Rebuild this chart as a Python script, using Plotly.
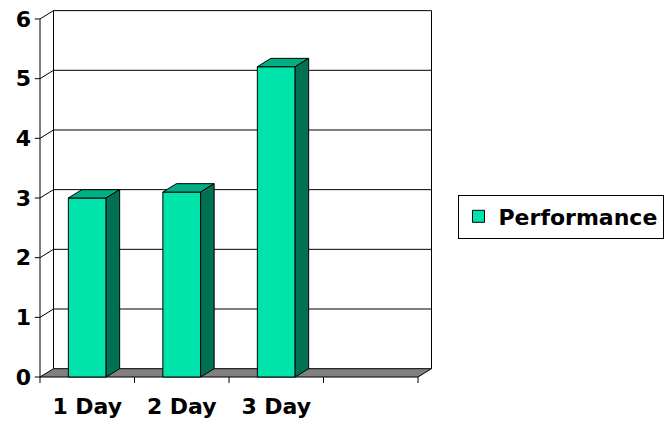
import plotly.graph_objects as go

# Data
categories = ["1 Day", "2 Day", "3 Day", ""]
performance = [3.0, 3.1, 5.2]
y_ticks = [0, 1, 2, 3, 4, 5, 6]

# Colours
FRONT = "#00E3AA"
TOP = "#00AF83"
SIDE = "#007153"
FLOOR = "#808080"
LINE = "#000000"
FONT = "DejaVu Sans"

# Pseudo-3D geometry (in axis units)
BAR_W = 0.4
DX = 0.143          # depth offset along x
DY = 0.140          # depth offset along y
X0, X1 = -0.5, len(categories) - 0.5
YMAX = max(y_ticks)
TICK = 0.1          # outside tick length below the floor

xpos = list(range(len(performance)))

fig = go.Figure()

# Front faces of the columns
fig.add_trace(go.Bar(
    x=xpos, y=performance, width=BAR_W, name="Performance",
    marker=dict(color=FRONT, line=dict(color=LINE, width=1)),
    hoverinfo="skip",
))

# Top and side faces built from the same values
top_x, top_y, side_x, side_y = [], [], [], []
for xc, v in zip(xpos, performance):
    l, r = xc - BAR_W / 2, xc + BAR_W / 2
    top_x += [l, l + DX, r + DX, r, l, None]
    top_y += [v, v + DY, v + DY, v, v, None]
    side_x += [r, r + DX, r + DX, r, r, None]
    side_y += [0, DY, v + DY, v, 0, None]

for fx, fy, col in ((top_x, top_y, TOP), (side_x, side_y, SIDE)):
    fig.add_trace(go.Scatter(
        x=fx, y=fy, mode="lines", fill="toself", fillcolor=col,
        line=dict(color=LINE, width=1), showlegend=False, hoverinfo="skip",
    ))

shapes = []
# Floor
shapes.append(dict(
    type="path", layer="below",
    path=f"M{X0},0 L{X1},0 L{X1 + DX},{DY} L{X0 + DX},{DY} Z",
    fillcolor=FLOOR, line=dict(color=LINE, width=1),
))
# Gridlines across the side wall and back wall
for t in y_ticks[1:]:
    shapes.append(dict(
        type="path", layer="below",
        path=f"M{X0},{t} L{X0 + DX},{t + DY} L{X1 + DX},{t + DY}",
        line=dict(color=LINE, width=1),
    ))
# Back wall verticals
for xv in (X0 + DX, X1 + DX):
    shapes.append(dict(type="line", layer="below", x0=xv, x1=xv, y0=DY, y1=YMAX + DY,
                       line=dict(color=LINE, width=1)))
# Value axis line and its ticks
shapes.append(dict(type="line", layer="below", x0=X0, x1=X0, y0=-TICK, y1=YMAX,
                   line=dict(color=LINE, width=1)))
for t in y_ticks:
    shapes.append(dict(type="line", layer="below", x0=X0 - 0.055, x1=X0, y0=t, y1=t,
                       line=dict(color=LINE, width=1)))
# Category boundary ticks
for i in range(1, len(categories) + 1):
    b = X0 + i
    shapes.append(dict(type="line", layer="below", x0=b, x1=b, y0=-TICK, y1=0,
                       line=dict(color=LINE, width=1)))

fig.update_layout(
    width=664, height=424,
    margin=dict(l=34, r=230, t=8, b=41),
    paper_bgcolor="white", plot_bgcolor="white",
    shapes=shapes,
    showlegend=True,
    legend=dict(
        xref="container", yref="container",
        x=457.5 / 664, y=1 - 194.5 / 424, xanchor="left", yanchor="top",
        bordercolor=LINE, borderwidth=1, bgcolor="white",
        itemwidth=30, tracegroupgap=0,
        font=dict(family=FONT, size=22, color="black", weight="bold"),
    ),
    xaxis=dict(
        range=[X0 - 6 / 94.5, X0 + 394 / 94.5],
        tickmode="array", tickvals=xpos, ticktext=categories[:len(xpos)],
        ticks="", showgrid=False, zeroline=False, showline=False,
        ticklabelstandoff=8, automargin=False,
        tickfont=dict(family=FONT, size=22, color="black", weight="bold"),
        fixedrange=True,
    ),
    yaxis=dict(
        range=[-TICK, 369 / 59.67],
        tickmode="array", tickvals=y_ticks,
        ticks="", showgrid=False, zeroline=False, showline=False,
        ticklabelstandoff=2, automargin=False,
        tickfont=dict(family=FONT, size=22, color="black", weight="bold"),
        fixedrange=True,
    ),
)

fig.write_html("out.html")
